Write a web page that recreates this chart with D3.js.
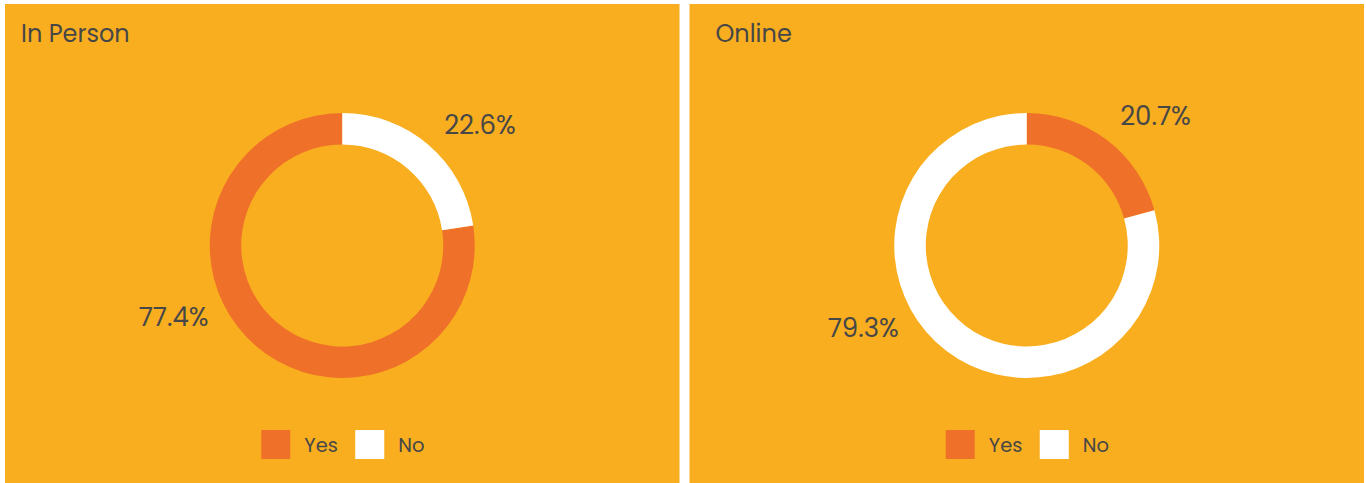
<!DOCTYPE html>
<html>
<head>
<meta charset="utf-8">
<script src="https://cdn.jsdelivr.net/npm/d3@7"></script>
<style>
  html, body { margin: 0; padding: 0; background: #fff; }
  svg { display: block; font-family: Poppins, Inter, "Open Sans", sans-serif; }
</style>
</head>
<body>
<svg id="chart" width="1366" height="483"></svg>
<script>
const panels = ['In Person', 'Online'];
const categories = ['Yes', 'No'];
const yesValues = [77.4, 20.7];
const noValues = [22.6, 79.3];

const colors = d3.scaleOrdinal()
  .domain(categories)
  .range(['#ef7129', '#ffffff']);

const W = 1366, H = 483;
const svg = d3.select('#chart');

const x = d3.scaleBand()
  .domain(panels)
  .range([5, W - 2])
  .paddingInner(10 / 685);

const outerR = 132.5, innerR = 101;
const arc = d3.arc().innerRadius(innerR).outerRadius(outerR);

// smallest slice first, clockwise from 12 o'clock
const pie = d3.pie()
  .value(d => d.value)
  .sort((a, b) => a.value - b.value);

const textCol = '#474747';
const titleX = [16, 26];

panels.forEach((p, i) => {
  const g = svg.append('g')
    .attr('transform', `translate(${x(p)},4)`);
  const bw = x.bandwidth();

  g.append('rect')
    .attr('width', bw)
    .attr('height', H - 4)
    .attr('fill', '#f9ae20');

  g.append('text')
    .attr('x', titleX[i])
    .attr('y', 37.5)
    .attr('font-size', 24)
    .attr('fill', textCol)
    .text(p);

  const data = [
    { key: 'Yes', value: yesValues[i] },
    { key: 'No', value: noValues[i] }
  ];
  const arcs = pie(data);

  const donut = g.append('g')
    .attr('transform', `translate(${bw / 2},${241.5})`);

  donut.selectAll('path')
    .data(arcs)
    .join('path')
      .attr('d', arc)
      .attr('fill', d => colors(d.data.key));

  // outside labels, pushed away from the vertical axis
  const labelR = 183;
  donut.selectAll('text')
    .data(arcs)
    .join('text')
      .each(function(d) {
        let a = (d.startAngle + d.endAngle) / 2;
        a = a < Math.PI ? a * 1.2 : a * 1.12;
        d3.select(this)
          .attr('x', Math.sin(a) * labelR)
          .attr('y', -Math.cos(a) * labelR);
      })
      .attr('text-anchor', 'middle')
      .attr('dy', '0.35em')
      .attr('font-size', 26)
      .attr('fill', textCol)
      .text(d => d3.format('.1f')(d.data.value) + '%');

  // legend
  const legend = g.append('g')
    .attr('transform', `translate(${bw / 2 - 81},${426})`);
  const items = legend.selectAll('g')
    .data(categories)
    .join('g')
      .attr('transform', (d, j) => `translate(${j * 94},0)`);
  items.append('rect')
    .attr('width', 29)
    .attr('height', 29)
    .attr('fill', d => colors(d));
  items.append('text')
    .attr('x', 43)
    .attr('y', 22)
    .attr('font-size', 19.5)
    .attr('fill', textCol)
    .text(d => d);
});
</script>
</body>
</html>
